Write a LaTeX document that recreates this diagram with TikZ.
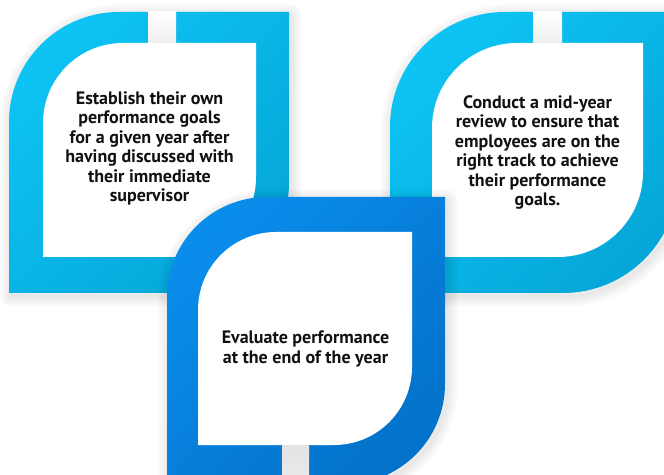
\documentclass[tikz,border=0pt]{standalone}
\usepackage{fontspec}
\setmainfont{PT Sans}
\definecolor{cyanA}{HTML}{0DC3F3}
\definecolor{cyanB}{HTML}{05A7D8}
\definecolor{blueA}{HTML}{0A8CEB}
\definecolor{blueB}{HTML}{0372CA}
\definecolor{txt}{HTML}{111111}
\newcommand\leafshape[5]{({#1},{#4}) -- ({#1},{#3-#5}) arc[start angle=180,end angle=90,radius=#5pt] -- ({#2},{#3}) -- ({#2},{#4+#5}) arc[start angle=0,end angle=-90,radius=#5pt] -- cycle}
\newcommand\softshadow[5]{%
  \foreach \w in {22,18,14,10,6,2}{%
    \draw[black,opacity=0.014,line width=\w pt,line join=round,xshift=2pt,yshift=-3pt] \leafshape{#1}{#2}{#3}{#4}{#5};}}
\tikzset{
  cyanband/.style={top color=cyanA,bottom color=cyanB,shading angle=45},
  blueband/.style={top color=blueA,bottom color=blueB,shading angle=45},
  gaptop/.style={top color=white,bottom color=black!6},
  gapbot/.style={top color=black!11,bottom color=black!8},
  label/.style={text=txt,align=center,font=\bfseries\fontsize{18}{19.4}\selectfont,inner sep=0pt}
}
\begin{document}
\begin{tikzpicture}[x=1pt,y=1pt]
\useasboundingbox (0,0) rectangle (664,474);
\fill[white] (0,0) rectangle (664,474);
% shape 1
\softshadow{9}{289}{462}{181}{110}
\path[cyanband] \leafshape{9}{289}{462}{181}{110};
\fill[white] \leafshape{43}{256}{431}{217}{80};
\path[gaptop] (148,431) rectangle (176,462.5);
\node[label] (t1) at (149.5,325.5) {Establish their own\\performance goals\\for a given year after\\having discussed with\\their immediate\\supervisor};
% shape 2
\softshadow{390}{678}{462}{181}{115}
\path[cyanband] \leafshape{390}{678}{462}{181}{115};
\fill[white] \leafshape{432}{643}{431}{217}{85};
\path[gaptop] (533,431) rectangle (562,462.5);
\node[label] (t2) at (537.5,321.5) {Conduct a mid-year\\review to ensure that\\employees are on the\\right track to achieve\\their performance\\goals.};
% shape 3
\softshadow{167}{445}{277}{-10}{100}
\path[blueband] \leafshape{167}{445}{277}{-10}{100};
\fill[white] \leafshape{198}{412}{242}{29}{78};
\path[gapbot] (282,-11) rectangle (309,29);
\node[label] (t3) at (305.5,125) {Evaluate performance\\at the end of the year};
\end{tikzpicture}
\end{document}
